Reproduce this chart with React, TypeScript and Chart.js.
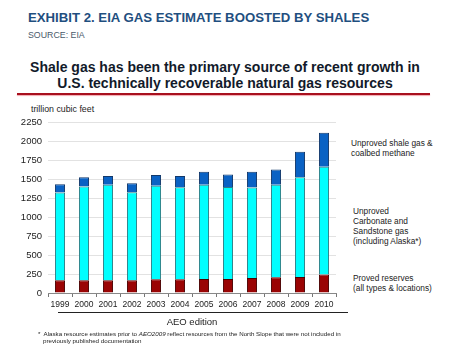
import React, { useEffect, useRef } from "react";
import { Chart, registerables } from "chart.js";

Chart.register(...registerables);

const years = ["1999", "2000", "2001", "2002", "2003", "2004", "2005", "2006", "2007", "2008", "2009", "2010"];
const provedReserves = [168, 168, 168, 168, 181, 181, 185, 185, 198, 207, 211, 243];
const unprovedConventional = [1153, 1232, 1255, 1158, 1229, 1211, 1238, 1211, 1189, 1216, 1313, 1418];
const unprovedShale = [111, 124, 115, 119, 141, 146, 171, 163, 207, 202, 335, 449];
const yTicks = [0, 250, 500, 750, 1000, 1250, 1500, 1750, 2000, 2250];

const FONT = "'Liberation Sans', Arial, sans-serif";

type TxtProps = {
  x: number;
  cy: number;
  size: number;
  lh?: number;
  bold?: boolean;
  color?: string;
  align?: "left" | "center";
  width?: number;
  children: React.ReactNode;
};

function Txt({ x, cy, size, lh, bold, color, align, width, children }: TxtProps) {
  const L = lh ?? Math.round(size * 1.2);
  const style: React.CSSProperties = {
    position: "absolute",
    top: cy - L / 2,
    fontFamily: FONT,
    fontSize: size,
    lineHeight: L + "px",
    fontWeight: bold ? 700 : 400,
    color: color ?? "#222",
    whiteSpace: "nowrap",
  };
  if (align === "center") {
    style.left = x - (width ?? 400) / 2;
    style.width = width ?? 400;
    style.textAlign = "center";
  } else {
    style.left = x;
  }
  return <div style={style}>{children}</div>;
}

export default function App() {
  const ref = useRef<HTMLCanvasElement | null>(null);

  useEffect(() => {
    if (!ref.current) return;
    const chart = new Chart(ref.current, {
      type: "bar",
      data: {
        labels: years,
        datasets: [
          {
            label: "Proved reserves (all types & locations)",
            data: provedReserves,
            backgroundColor: "#9a0404",
            borderColor: "#4a0000",
            borderWidth: 1,
          },
          {
            label: "Unproved Carbonate and Sandstone gas (including Alaska*)",
            data: unprovedConventional,
            backgroundColor: "#00ffff",
            borderColor: "#2b7f86",
            borderWidth: 1,
          },
          {
            label: "Unproved shale gas & coalbed methane",
            data: unprovedShale,
            backgroundColor: "#0a62c4",
            borderColor: "#12386a",
            borderWidth: 1,
          },
        ],
      },
      options: {
        responsive: false,
        animation: false,
        maintainAspectRatio: false,
        layout: { padding: { top: 22, right: 9, left: 0, bottom: 0 } },
        plugins: {
          legend: { display: false },
          tooltip: { enabled: false },
          title: { display: false },
        },
        datasets: { bar: { barPercentage: 0.42, categoryPercentage: 1 } },
        scales: {
          x: {
            stacked: true,
            grid: {
              display: true,
              drawOnChartArea: false,
              drawTicks: true,
              tickLength: 4,
              offset: true,
              color: "#777",
            },
            border: { display: true, color: "#888", width: 1 },
            ticks: {
              font: { family: FONT, size: 8.5 },
              color: "#222",
              padding: 3,
              maxRotation: 0,
              autoSkip: false,
            },
            afterFit: (s: any) => {
              s.height = 22;
            },
          },
          y: {
            stacked: true,
            min: 0,
            max: 2250,
            afterBuildTicks: (s: any) => {
              s.ticks = yTicks.map((v) => ({ value: v }));
            },
            grid: { color: "#e2e2e2", drawTicks: false, lineWidth: 1 },
            border: { display: false },
            ticks: {
              font: { family: FONT, size: 9.5 },
              color: "#222",
              padding: 6,
              callback: (v: any) => String(v),
            },
            afterFit: (s: any) => {
              s.width = 48;
            },
          },
        },
      },
    });
    return () => chart.destroy();
  }, []);

  return (
    <div
      style={{
        position: "fixed",
        left: 0,
        top: 0,
        width: 450,
        height: 360,
        background: "#fff",
        overflow: "hidden",
      }}
    >
      <Txt x={28} cy={18} size={13.2} bold color="#1f4f7f">
        EXHIBIT 2. EIA GAS ESTIMATE BOOSTED BY SHALES
      </Txt>
      <Txt x={28} cy={35} size={8.8} color="#4a5a6a">
        SOURCE: EIA
      </Txt>
      <Txt x={225} cy={67} size={14} bold color="#121a2a" align="center" width={440}>
        Shale gas has been the primary source of recent growth in
      </Txt>
      <Txt x={225} cy={83} size={14} bold color="#121a2a" align="center" width={440}>
        U.S. technically recoverable natural gas resources
      </Txt>
      <div
        style={{
          position: "absolute",
          left: 17,
          top: 93,
          width: 413,
          height: 2,
          background: "#a8101e",
          boxShadow: "0 1px 1px #f3a9b0",
        }}
      />
      <Txt x={31} cy={109} size={8.8}>
        trillion cubic feet
      </Txt>

      <canvas
        ref={ref}
        width={345}
        height={215}
        style={{ position: "absolute", left: 0, top: 100, width: 345, height: 215 }}
      />

      <Txt x={351} cy={143} size={8.3} lh={10}>
        Unproved shale gas &amp;
      </Txt>
      <Txt x={351} cy={153} size={8.3} lh={10}>
        coalbed methane
      </Txt>
      <Txt x={353} cy={211} size={8.3} lh={10}>
        Unproved
      </Txt>
      <Txt x={353} cy={221} size={8.3} lh={10}>
        Carbonate and
      </Txt>
      <Txt x={353} cy={231} size={8.3} lh={10}>
        Sandstone gas
      </Txt>
      <Txt x={353} cy={241} size={8.3} lh={10}>
        (including Alaska*)
      </Txt>
      <Txt x={353} cy={278} size={8.3} lh={10}>
        Proved reserves
      </Txt>
      <Txt x={353} cy={288} size={8.3} lh={10}>
        (all types &amp; locations)
      </Txt>

      <div
        style={{
          position: "absolute",
          left: 58,
          top: 312,
          width: 290,
          height: 1,
          background: "#222",
        }}
      />
      <Txt x={192} cy={321} size={9.5} align="center" width={120}>
        AEO edition
      </Txt>
      <Txt x={38} cy={333} size={6.2} lh={7}>
        *&nbsp; Alaska resource estimates prior to <i>AEO2009</i> reflect resources from the North Slope that were not included in
      </Txt>
      <Txt x={43} cy={340} size={6.2} lh={7}>
        previously published documentation
      </Txt>
    </div>
  );
}
